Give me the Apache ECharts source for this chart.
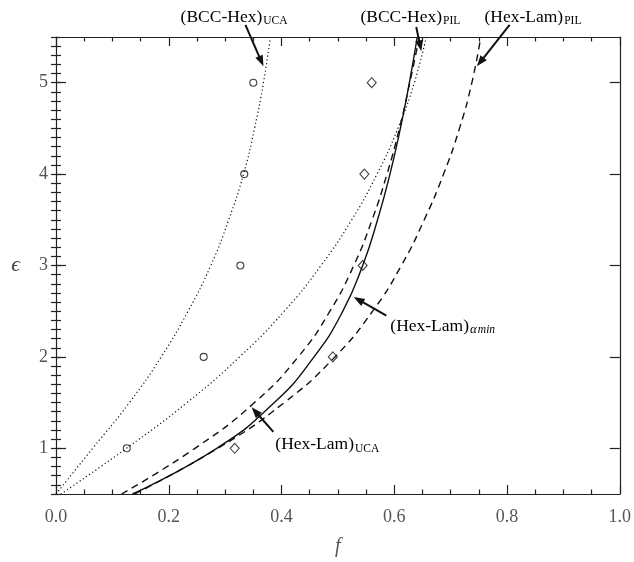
<!DOCTYPE html>
<html><head><meta charset="utf-8">
<script src="https://cdn.jsdelivr.net/npm/echarts@6/dist/echarts.min.js"></script>
<style>html,body{margin:0;padding:0;background:#fff}#c{width:634px;height:562px}</style>
</head><body><div id="c"></div>
<script>
// ---- data ----
const xTicks = [0, 0.2, 0.4, 0.6, 0.8, 1.0];
const yTicks = [1, 2, 3, 4, 5];
// epsilon levels at which the curves were read
const epsLevels  = [0.5, 1.0, 1.5, 2.0, 2.5, 3.0, 3.5, 4.0, 4.5, 5.0, 5.5];
// f values of each curve at those levels
const bccHexUCA  = [0.0000, 0.0651, 0.1303, 0.1866, 0.2342, 0.2746, 0.3063, 0.3327, 0.3521, 0.3680, 0.3803];
const bccHexPIL  = [0.0088, 0.1250, 0.2324, 0.3257, 0.4049, 0.4701, 0.5246, 0.5695, 0.6065, 0.6356, 0.6567];
const hexLamUCA  = [0.1162, 0.2465, 0.3521, 0.4296, 0.4859, 0.5282, 0.5607, 0.5871, 0.6092, 0.6276, 0.6444];
const hexLamAmin = [0.1356, 0.2852, 0.3873, 0.4577, 0.5088, 0.5440, 0.5704, 0.5924, 0.6109, 0.6268, 0.6408];
const hexLamPIL  = [0.1391, 0.2870, 0.4049, 0.4947, 0.5616, 0.6127, 0.6532, 0.6875, 0.7157, 0.7377, 0.7535];
// simulation points [f, epsilon]
const circles  = [[0.1255,1],[0.262,2],[0.327,3],[0.334,4],[0.350,5]];
const diamonds = [[0.317,1],[0.491,2],[0.544,3],[0.547,4],[0.560,5]];

// annotation anchors in data coordinates
const labels = [
  {text:'{m|(BCC-Hex)}{s|UCA}', at:[0.221,5.718]},
  {text:'{m|(BCC-Hex)}{s|PIL}', at:[0.540,5.718]},
  {text:'{m|(Hex-Lam)}{s|PIL}', at:[0.760,5.718]},
  {text:'{m|(Hex-Lam)}{i|α}{j|min}', at:[0.593,2.333]},
  {text:'{m|(Hex-Lam)}{s|UCA}', at:[0.389,1.039]}
];
const arrows = [
  {from:[0.336,5.632], to:[0.368,5.179]},
  {from:[0.639,5.610], to:[0.648,5.344]},
  {from:[0.8046,5.632], to:[0.7465,5.179]},
  {from:[0.586,2.451], to:[0.528,2.656]},
  {from:[0.3856,1.179], to:[0.347,1.449]}
];

const FONT = "'Liberation Serif','DejaVu Serif',serif";
const AX = '#222';
const chart = echarts.init(document.getElementById('c'), null, {renderer:'canvas'});

function xAx(pos, showLabel){
  return {
    type:'value', min:0, max:1, interval:0.2, position:pos,
    axisLine:{show:true, onZero:false, lineStyle:{color:AX, width:1.2}},
    axisTick:{show:true, inside:true, length:9, lineStyle:{color:AX, width:1.2}},
    minorTick:{show:true, splitNumber:4, length:4.5, lineStyle:{color:AX, width:1.2}},
    splitLine:{show:false}, minorSplitLine:{show:false},
    axisLabel:{show:showLabel, formatter:v=>v.toFixed(1), fontFamily:FONT, fontSize:18, color:'#555', margin:14,
      customValues: xTicks},
    name: showLabel ? 'f' : '', nameLocation:'middle', nameGap:43,
    nameTextStyle:{fontFamily:FONT, fontStyle:'italic', fontSize:20, color:'#555'}
  };
}
function yMajor(pos, showLabel){
  return {
    type:'value', min:0.5, max:5.5, position:pos,
    axisLine:{show:true, onZero:false, lineStyle:{color:AX, width:1.2}},
    axisTick:{show:true, inside:true, length:10, customValues:yTicks, lineStyle:{color:AX, width:1.2}},
    splitLine:{show:false},
    axisLabel:{show:showLabel, customValues:yTicks, fontFamily:FONT, fontSize:18, color:'#555', margin:8},
    name: showLabel ? 'ϵ' : '', nameLocation:'middle', nameGap:36, nameRotate:0,
    nameTextStyle:{fontFamily:FONT, fontStyle:'italic', fontSize:22, color:'#444'}
  };
}
function yMinor(pos){
  return {
    type:'value', min:0.5, max:5.5, interval:0.1, position:pos,
    axisLine:{show:false},
    axisTick:{show:true, inside:true, length:5, lineStyle:{color:AX, width:1.2}},
    splitLine:{show:false}, axisLabel:{show:false}
  };
}
function curve(name, fVals, type, width){
  const data = fVals.map((f,i)=>[f, epsLevels[i]]);
  return {name, type:'line', data, xAxisIndex:0, yAxisIndex:0, showSymbol:false, smooth:0.5,
    clip:true, lineStyle:{color:'#111', width, type}, silent:true, z:3};
}

chart.setOption({
  animation:false,
  backgroundColor:'#fff',
  grid:{left:56, right:10, top:37, bottom:61, containLabel:false},
  xAxis:[xAx('bottom', true), xAx('top', false)],
  yAxis:[yMajor('left', true), yMinor('left'), yMajor('right', false), yMinor('right')],
  series:[
    curve('(BCC-Hex)UCA', bccHexUCA, [1.2,2.6], 1.2),
    curve('(BCC-Hex)PIL', bccHexPIL, [1.2,2.6], 1.2),
    curve('(Hex-Lam)UCA', hexLamUCA, [7,5], 1.4),
    curve('(Hex-Lam)amin', hexLamAmin, 'solid', 1.4),
    curve('(Hex-Lam)PIL', hexLamPIL, [7,5], 1.4),
    {type:'scatter', data:circles, symbol:'circle', symbolSize:7,
      itemStyle:{color:'rgba(0,0,0,0)', borderColor:'#111', borderWidth:1.1}, z:4},
    {type:'scatter', data:diamonds, symbol:'diamond', symbolSize:[9,10],
      itemStyle:{color:'rgba(0,0,0,0)', borderColor:'#111', borderWidth:1.1}, z:4}
  ]
});

function px(p){ return chart.convertToPixel({xAxisIndex:0, yAxisIndex:0}, p); }
const rich = {
  m:{fontFamily:FONT, fontSize:17.5, color:'#222', lineHeight:20, verticalAlign:'middle'},
  s:{fontFamily:FONT, fontSize:11.5, color:'#222', lineHeight:20, verticalAlign:'bottom', padding:[6,0,0,1]},
  i:{fontFamily:FONT, fontSize:13, fontStyle:'italic', color:'#222', lineHeight:20, verticalAlign:'bottom', padding:[6,0,0,1]},
  j:{fontFamily:FONT, fontSize:11.5, fontStyle:'italic', color:'#222', lineHeight:20, verticalAlign:'bottom', padding:[6,0,0,1]}
};
const g = [];
labels.forEach(l=>{
  const p = px(l.at);
  g.push({type:'text', z:10, style:{text:l.text, x:p[0], y:p[1], align:'left', verticalAlign:'middle', rich}});
});
arrows.forEach(a=>{
  const t = px(a.from), h = px(a.to);
  const dx = h[0]-t[0], dy = h[1]-t[1], len = Math.hypot(dx,dy);
  const ux = dx/len, uy = dy/len, nx = -uy, ny = ux;
  const L = 11, W = 4;
  const bx = h[0]-L*ux, by = h[1]-L*uy;
  g.push({type:'line', z:10, shape:{x1:t[0], y1:t[1], x2:bx+2*ux, y2:by+2*uy}, style:{stroke:'#111', lineWidth:2}});
  g.push({type:'polygon', z:10, shape:{points:[[h[0],h[1]],[bx+W*nx,by+W*ny],[bx-W*nx,by-W*ny]]}, style:{fill:'#111'}});
});
chart.setOption({graphic:g});
</script>
</body></html>
